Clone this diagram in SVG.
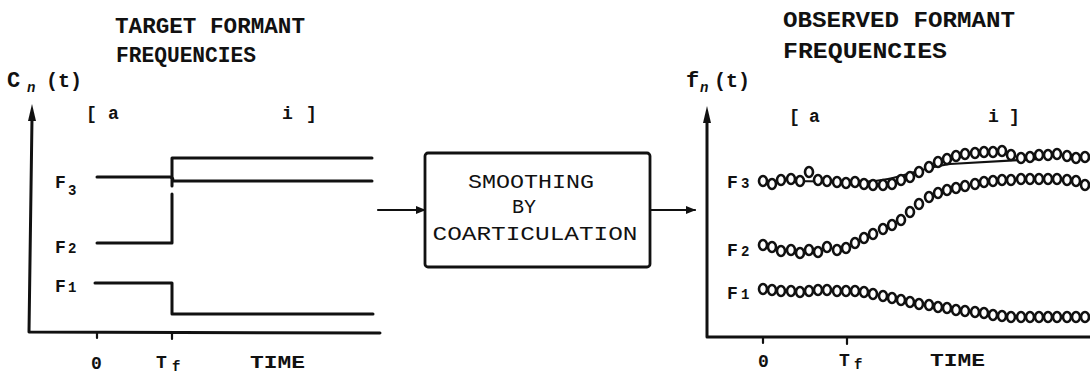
<svg xmlns="http://www.w3.org/2000/svg" width="1090" height="373" viewBox="0 0 1090 373">
<style>
.t{font-family:"Liberation Mono","DejaVu Sans Mono",monospace;fill:#111;font-weight:bold}
.title{font-size:22px}
.box{font-size:20px;font-weight:normal;text-anchor:middle}
.lbl{font-size:18px}
.sub{font-size:14px}
.ln{fill:none;stroke:#111;stroke-width:3;stroke-linecap:round;stroke-linejoin:round}
.thin{fill:none;stroke:#111;stroke-width:2.2;stroke-linecap:round}
.c{fill:#fff;stroke:#111;stroke-width:2.6}
</style>
<defs>
<marker id="ah" markerWidth="10" markerHeight="8" refX="9" refY="4" orient="auto" markerUnits="userSpaceOnUse">
<path d="M0 0 L10 4 L0 8 Z" fill="#111"/>
</marker>
<ellipse id="o" rx="4" ry="5" class="c"/>
</defs>
<rect width="1090" height="373" fill="#fff"/>

<g id="left-plot">
<text class="t title" x="115" y="33" textLength="190" lengthAdjust="spacingAndGlyphs">TARGET FORMANT</text>
<text class="t title" x="116" y="62" textLength="140" lengthAdjust="spacingAndGlyphs">FREQUENCIES</text>
<text class="t" x="7" y="87" font-size="22">C</text>
<text class="t sub" x="27" y="92" font-style="italic">n</text>
<text class="t" x="46" y="87" font-size="20">(t)</text>
<text class="t lbl" x="86" y="119">[</text>
<text class="t lbl" x="108" y="119">a</text>
<text class="t lbl" x="282" y="119">i</text>
<text class="t lbl" x="306" y="119">]</text>
<path class="ln" d="M32 118 L29 332 L380 333"/>
<path d="M32 104 L36 121 L28 121 Z" fill="#111"/>
<path class="ln" d="M97 177 H170 Q173 177 173 181 H372"/>
<path class="ln" d="M172 186 V158 H372"/>
<path class="ln" d="M97 243 H172 V194"/>
<path class="ln" d="M95 283 H172 V314 H373"/>
<path class="thin" d="M97 333 V338 M172 333 V339"/>
<text class="t lbl" x="55" y="188">F</text><text class="t sub" x="68" y="195">3</text>
<text class="t lbl" x="55" y="253">F</text><text class="t sub" x="68" y="253">2</text>
<text class="t lbl" x="55" y="292">F</text><text class="t sub" x="68" y="292">1</text>
<text class="t lbl" x="91" y="369">0</text>
<text class="t lbl" x="156" y="368">T</text><text class="t sub" x="172" y="371">f</text>
<text class="t lbl" x="250" y="368" textLength="55" lengthAdjust="spacingAndGlyphs">TIME</text>
</g>

<g id="smoothing-box">
<rect x="425" y="153" width="225" height="114" rx="3" fill="#fff" stroke="#111" stroke-width="2.8"/>
<text class="t box" x="531" y="188" textLength="126" lengthAdjust="spacingAndGlyphs">SMOOTHING</text>
<text class="t box" x="524" y="213">BY</text>
<text class="t box" x="535" y="240" textLength="205" lengthAdjust="spacingAndGlyphs">COARTICULATION</text>
</g>

<g id="connectors">
<line class="thin" x1="378" y1="210" x2="425" y2="210" marker-end="url(#ah)"/>
<line class="thin" x1="650" y1="210" x2="695" y2="210" marker-end="url(#ah)"/>
</g>

<g id="right-plot">
<text class="t title" x="783" y="27" textLength="232" lengthAdjust="spacingAndGlyphs">OBSERVED FORMANT</text>
<text class="t title" x="783" y="58" textLength="164" lengthAdjust="spacingAndGlyphs">FREQUENCIES</text>
<text class="t" x="686" y="87" font-size="22">f</text>
<text class="t sub" x="700" y="92" font-style="italic">n</text>
<text class="t" x="714" y="87" font-size="20">(t)</text>
<text class="t lbl" x="789" y="122">[</text>
<text class="t lbl" x="809" y="122">a</text>
<text class="t lbl" x="988" y="122">i</text>
<text class="t lbl" x="1009" y="122">]</text>
<path class="ln" d="M707 120 L707 337 L1090 337"/>
<path d="M707 106 L711 123 L703 123 Z" fill="#111"/>
<path class="thin" d="M763 338 V343 M847 338 V344"/>
<text class="t lbl" x="727" y="188">F</text><text class="t sub" x="741" y="188">3</text>
<text class="t lbl" x="727" y="256">F</text><text class="t sub" x="741" y="256">2</text>
<text class="t lbl" x="727" y="299">F</text><text class="t sub" x="741" y="299">1</text>
<text class="t lbl" x="758" y="367">0</text>
<text class="t lbl" x="839" y="366">T</text><text class="t sub" x="854" y="369">f</text>
<text class="t lbl" x="930" y="366" textLength="55" lengthAdjust="spacingAndGlyphs">TIME</text>
<path class="thin" d="M790 181 L860 182 C895 182 918 168 950 164 L1040 159"/>
<g id="F3-points">
<use href="#o" x="763" y="181"/><use href="#o" x="772" y="184"/><use href="#o" x="781" y="180"/><use href="#o" x="791" y="179"/><use href="#o" x="800" y="181"/><use href="#o" x="809" y="172"/><use href="#o" x="818" y="180"/><use href="#o" x="827" y="181"/><use href="#o" x="837" y="182"/><use href="#o" x="846" y="183"/><use href="#o" x="855" y="182"/><use href="#o" x="864" y="184"/><use href="#o" x="873" y="185"/><use href="#o" x="883" y="185"/><use href="#o" x="892" y="184"/><use href="#o" x="901" y="180"/><use href="#o" x="910" y="177"/><use href="#o" x="919" y="172"/><use href="#o" x="929" y="167"/><use href="#o" x="938" y="162"/><use href="#o" x="947" y="159"/><use href="#o" x="956" y="156"/><use href="#o" x="965" y="154"/><use href="#o" x="975" y="153"/><use href="#o" x="984" y="152"/><use href="#o" x="993" y="152"/><use href="#o" x="1002" y="151"/><use href="#o" x="1011" y="155"/><use href="#o" x="1021" y="158"/><use href="#o" x="1030" y="157"/><use href="#o" x="1039" y="155"/><use href="#o" x="1048" y="155"/><use href="#o" x="1057" y="154"/><use href="#o" x="1067" y="156"/><use href="#o" x="1076" y="158"/><use href="#o" x="1085" y="157"/>
</g>
<g id="F2-points">
<use href="#o" x="763" y="245"/><use href="#o" x="772" y="247"/><use href="#o" x="781" y="251"/><use href="#o" x="791" y="250"/><use href="#o" x="800" y="253"/><use href="#o" x="809" y="250"/><use href="#o" x="818" y="252"/><use href="#o" x="827" y="247"/><use href="#o" x="837" y="250"/><use href="#o" x="846" y="248"/><use href="#o" x="855" y="243"/><use href="#o" x="864" y="238"/><use href="#o" x="873" y="234"/><use href="#o" x="883" y="229"/><use href="#o" x="892" y="225"/><use href="#o" x="901" y="220"/><use href="#o" x="910" y="212"/><use href="#o" x="919" y="204"/><use href="#o" x="929" y="197"/><use href="#o" x="938" y="193"/><use href="#o" x="947" y="190"/><use href="#o" x="956" y="188"/><use href="#o" x="965" y="186"/><use href="#o" x="975" y="184"/><use href="#o" x="984" y="182"/><use href="#o" x="993" y="181"/><use href="#o" x="1002" y="180"/><use href="#o" x="1011" y="180"/><use href="#o" x="1021" y="179"/><use href="#o" x="1030" y="179"/><use href="#o" x="1039" y="179"/><use href="#o" x="1048" y="179"/><use href="#o" x="1057" y="179"/><use href="#o" x="1067" y="180"/><use href="#o" x="1076" y="181"/><use href="#o" x="1085" y="185"/>
</g>
<g id="F1-points">
<use href="#o" x="763" y="289"/><use href="#o" x="772" y="290"/><use href="#o" x="781" y="291"/><use href="#o" x="791" y="291"/><use href="#o" x="800" y="292"/><use href="#o" x="809" y="291"/><use href="#o" x="818" y="290"/><use href="#o" x="827" y="290"/><use href="#o" x="837" y="291"/><use href="#o" x="846" y="291"/><use href="#o" x="855" y="291"/><use href="#o" x="864" y="292"/><use href="#o" x="873" y="294"/><use href="#o" x="883" y="296"/><use href="#o" x="892" y="298"/><use href="#o" x="901" y="300"/><use href="#o" x="910" y="302"/><use href="#o" x="919" y="304"/><use href="#o" x="929" y="305"/><use href="#o" x="938" y="307"/><use href="#o" x="947" y="308"/><use href="#o" x="956" y="310"/><use href="#o" x="965" y="311"/><use href="#o" x="975" y="312"/><use href="#o" x="984" y="313"/><use href="#o" x="993" y="315"/><use href="#o" x="1002" y="316"/><use href="#o" x="1011" y="317"/><use href="#o" x="1021" y="317"/><use href="#o" x="1030" y="317"/><use href="#o" x="1039" y="317"/><use href="#o" x="1048" y="317"/><use href="#o" x="1057" y="317"/><use href="#o" x="1067" y="317"/><use href="#o" x="1076" y="317"/><use href="#o" x="1085" y="317"/>
</g>
</g>
</svg>
